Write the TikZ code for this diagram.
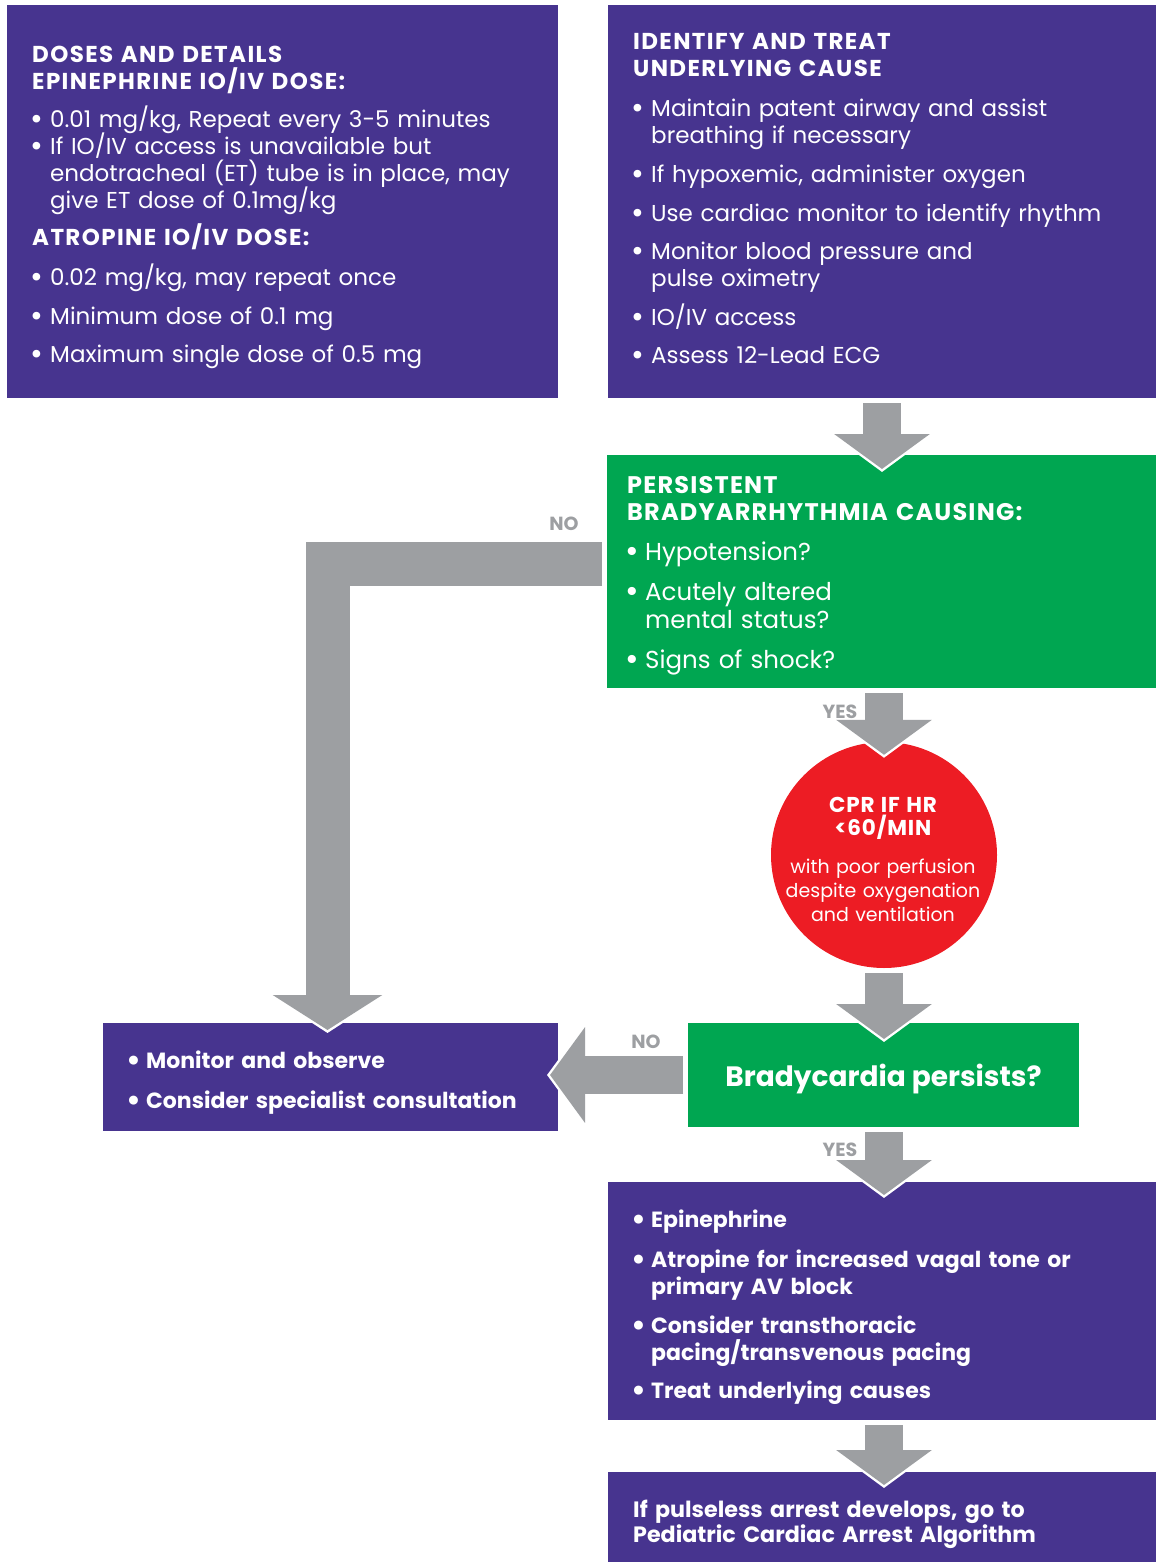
\documentclass[tikz,border=0pt]{standalone}
\usepackage{fontspec}
\usepackage{graphicx}
\setmainfont{Poppins}
\usetikzlibrary{arrows.meta, positioning, calc}

\definecolor{algpurple}{RGB}{71,52,143}
\definecolor{alggreen}{RGB}{0,166,81}
\definecolor{algred}{RGB}{237,28,36}
\definecolor{alggray}{RGB}{157,159,162}

\newcommand{\bl}{\makebox[18pt][l]{\hspace*{-2pt}\smash{\raisebox{-2pt}{\scalebox{1.35}{\textbullet}}}}}
\newcommand{\ind}{\hspace*{18pt}}
\newcommand{\hd}[1]{{\bfseries\addfontfeatures{LetterSpace=6}#1}}

\tikzset{
  panel/.style={rectangle, anchor=north west, inner sep=0pt, outer sep=0pt},
  purplepanel/.style={panel, fill=algpurple},
  greenpanel/.style={panel, fill=alggreen},
  paneltext/.style={anchor=base west, inner sep=0pt, text=white, text width=#1, align=left,
    font=\fontsize{23}{27}\selectfont, execute at begin node={\lineskiplimit=-30pt}},
  paneltext/.default=510pt,
  flowarrow/.style={draw=alggray, line width=38pt,
    -{Triangle[width=94pt,length=35pt]}, shorten <=5pt, shorten >=-#1,
    preaction={draw=white, line width=44pt, -{Triangle[width=104pt,length=39pt]}, shorten >=-#1-3pt}},
  flowarrow/.default=14pt,
  wideflowarrow/.style={draw=alggray, line width=44pt, line join=miter,
    -{Triangle[width=108pt,length=35pt]}, shorten <=5pt, shorten >=-7pt,
    preaction={draw=white, line width=50pt, line join=miter, -{Triangle[width=118pt,length=39pt]}, shorten >=-10pt}},
  answer/.style={inner sep=0pt, text=alggray, font=\bfseries\fontsize{19}{21}\selectfont}
}

\begin{document}
\begin{tikzpicture}[x=1pt, y=-1pt]
  \useasboundingbox (0,0) rectangle (1156,1562);
  % panels
  \node[purplepanel, minimum width=551pt, minimum height=393pt] (doses) at (7,5) {};
  \node[purplepanel, minimum width=548pt, minimum height=393pt] (cause) at (608,5) {};
  \node[greenpanel, minimum width=549pt, minimum height=233pt] (persist) at (607,455) {};
  \node[circle, fill=algred, minimum size=226pt, inner sep=0pt] (cpr) at (884,855) {};
  \node[purplepanel, minimum width=455pt, minimum height=108pt] (observe) at (103,1023) {};
  \node[greenpanel, minimum width=391pt, minimum height=104pt, text=white,
    text height=22pt, text depth=0pt,
    font=\bfseries\fontsize{28}{32}\selectfont] (brady) at (688,1023) {Bradycardia persists?};
  \node[purplepanel, minimum width=548pt, minimum height=238pt] (treat) at (608,1182) {};
  \node[purplepanel, minimum width=548pt, minimum height=90pt] (arrest) at (608,1472) {};

  % texts
  \node[paneltext] (dosestext) at (32,63) {%
    \hd{DOSES AND DETAILS}\\
    \hd{EPINEPHRINE IO/IV DOSE:}\\[11pt]
    \bl 0.01 mg/kg, Repeat every 3-5 minutes\\
    \bl If IO/IV access is unavailable but\\
    \ind endotracheal (ET) tube is in place, may\\
    \ind give ET dose of 0.1mg/kg\\[10pt]
    \hd{ATROPINE IO/IV DOSE:}\\[13pt]
    \bl 0.02 mg/kg, may repeat once\\[12pt]
    \bl Minimum dose of 0.1 mg\\[11pt]
    \bl Maximum single dose of 0.5 mg};
  \node[paneltext] (causetext) at (633,50) {%
    \hd{IDENTIFY AND TREAT}\\
    \hd{UNDERLYING CAUSE}\\[13pt]
    \bl Maintain patent airway and assist\\
    \ind breathing if necessary\\[12pt]
    \bl If hypoxemic, administer oxygen\\[12pt]
    \bl Use cardiac monitor to identify rhythm\\[11pt]
    \bl Monitor blood pressure and\\
    \ind pulse oximetry\\[12pt]
    \bl IO/IV access\\[11pt]
    \bl Assess 12-Lead ECG};
  \node[paneltext, font=\fontsize{24.5}{28}\selectfont] (persisttext) at (627,493) {%
    {\fontsize{24}{28}\selectfont\bfseries\addfontfeatures{LetterSpace=5}PERSISTENT\\[-1pt]
    BRADYARRHYTHMIA CAUSING:}\\[12pt]
    \bl Hypotension?\\[12pt]
    \bl Acutely altered\\
    \ind mental status?\\[12pt]
    \bl Signs of shock?};
  \node[anchor=base, inner sep=0pt, text width=220pt, align=center, text=white,
    font=\fontsize{19}{24}\selectfont] (cprtext) at (883,812) {%
    {\fontsize{21.5}{24}\selectfont\bfseries\addfontfeatures{LetterSpace=4}CPR IF HR\\[-1pt]
    <60/MIN}\\[14pt]
    with poor perfusion\\
    despite oxygenation\\
    and ventilation};
  \node[paneltext=420pt, font=\bfseries\fontsize{22}{27}\selectfont] (observetext) at (128,1068) {%
    \bl Monitor and observe\\[13pt]
    \bl Consider specialist consultation};
  \node[paneltext, font=\bfseries\fontsize{22}{27}\selectfont] (treattext) at (633,1227) {%
    \bl Epinephrine\\[13pt]
    \bl Atropine for increased vagal tone or\\
    \ind primary AV block\\[12pt]
    \bl Consider transthoracic\\
    \ind pacing/transvenous pacing\\[11pt]
    \bl Treat underlying causes};
  \node[paneltext, font=\bfseries\fontsize{22.2}{25}\selectfont] (arresttext) at (633,1517) {%
    If pulseless arrest develops, go to\\
    Pediatric Cardiac Arrest Algorithm};

  % arrows
  \draw[flowarrow] (cause.south) -- (cause.south |- persist.north);
  \draw[flowarrow=13pt] (cpr.north |- persist.south) -- (cpr.north);
  \draw[flowarrow=16pt] (cpr.south) -- (cpr.south |- brady.north);
  \draw[flowarrow=13pt] (cpr.south |- brady.south) -- (cpr.south |- treat.north);
  \draw[flowarrow=13pt] (cpr.south |- treat.south) -- (cpr.south |- arrest.north);
  \draw[flowarrow=8pt] (brady.west) -- (brady.west -| observe.east);
  \draw[wideflowarrow] ([yshift=8pt]persist.west) -| ([xshift=-3pt]observe.north);

  % answers
  \node[answer] (no1) at (564,524) {NO};
  \node[answer] (yes1) at (840,712) {YES};
  \node[answer] (no2) at (646,1042) {NO};
  \node[answer] (yes2) at (840,1150) {YES};
\end{tikzpicture}
\end{document}
